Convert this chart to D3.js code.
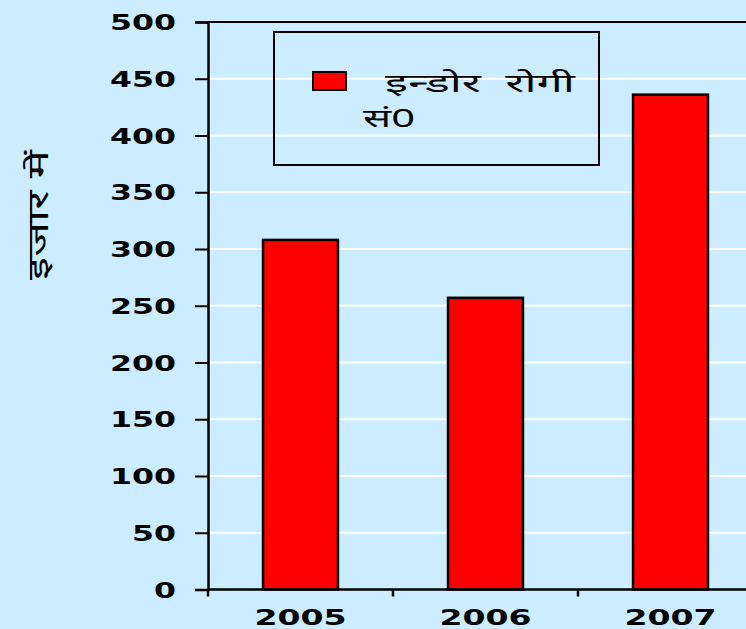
<!DOCTYPE html>
<html>
<head>
<meta charset="utf-8">
<script src="https://cdn.jsdelivr.net/npm/d3@7"></script>
<style>
  html, body { margin: 0; padding: 0; background: #CCECFF; }
  svg { display: block; }
</style>
</head>
<body>
<div id="chart"></div>
<script>
const categories = ["2005", "2006", "2007"];
const values = [308, 257, 436];
const yTicks = [0, 50, 100, 150, 200, 250, 300, 350, 400, 450, 500];
const seriesName1 = "इन्डोर  रोगी";
const seriesName2 = "सं0";
const yTitle = "इजार में";

const W = 746, H = 629;
const svg = d3.select("#chart").append("svg").attr("width", W).attr("height", H);
svg.append("rect").attr("width", W).attr("height", H).attr("fill", "#CCECFF");

const x = d3.scaleBand().domain(categories).range([208, 763]).paddingInner(0.595).paddingOuter(0.2975);
const y = d3.scaleLinear().domain([0, 500]).range([589.5, 22]);

// gridlines
svg.append("g").selectAll("line").data(yTicks.filter(d => d > 0 && d < 500)).join("line")
  .attr("x1", 208).attr("x2", W).attr("y1", d => y(d)).attr("y2", d => y(d))
  .attr("stroke", "#ffffff").attr("stroke-width", 2);

// top border
svg.append("line").attr("x1", 208).attr("x2", W).attr("y1", y(500)).attr("y2", y(500))
  .attr("stroke", "#000").attr("stroke-width", 2);

// bars
svg.append("g").selectAll("rect").data(values).join("rect")
  .attr("x", (d, i) => x(categories[i]))
  .attr("y", d => y(d))
  .attr("width", x.bandwidth())
  .attr("height", d => y(0) - y(d))
  .attr("fill", "#FF0000").attr("stroke", "#000").attr("stroke-width", 2.5);

// y axis
const yAxis = svg.append("g").attr("transform", "translate(208,0)")
  .call(d3.axisLeft(y).tickValues(yTicks).tickSize(13).tickPadding(19).tickFormat(d3.format("d")));
yAxis.select(".domain").attr("stroke", "#000").attr("stroke-width", 2.5);
yAxis.selectAll(".tick line").attr("stroke", "#000").attr("stroke-width", 2);
yAxis.selectAll(".tick text")
  .attr("font-family", "'DejaVu Sans', sans-serif").attr("font-weight", "bold")
  .attr("font-size", 21).attr("fill", "#000")
  .attr("dy", "0.36em")
  .attr("textLength", d => String(d).length * 22).attr("lengthAdjust", "spacingAndGlyphs");

// x axis
const xAxis = svg.append("g").attr("transform", `translate(0,${y(0)})`)
  .call(d3.axisBottom(x).tickSize(0).tickPadding(21));
xAxis.select(".domain").remove();
svg.append("line").attr("x1", 208).attr("x2", W).attr("y1", y(0)).attr("y2", y(0))
  .attr("stroke", "#000").attr("stroke-width", 2.5);
const boundaries = [x.range()[0]].concat(categories.map(c => x(c) + x.bandwidth() + x.step() * x.paddingInner() / 2));
svg.append("g").selectAll("line").data(boundaries).join("line")
  .attr("x1", d => d).attr("x2", d => d).attr("y1", y(0)).attr("y2", y(0) + 7)
  .attr("stroke", "#000").attr("stroke-width", 2.5);
xAxis.selectAll(".tick text")
  .attr("font-family", "'DejaVu Sans', sans-serif").attr("font-weight", "bold")
  .attr("font-size", 21).attr("fill", "#000")
  .attr("dy", "0.71em")
  .attr("textLength", 92).attr("lengthAdjust", "spacingAndGlyphs");

// y title
svg.append("text")
  .attr("transform", "translate(48,215) rotate(-90)")
  .attr("text-anchor", "middle")
  .attr("font-family", "'Noto Sans', sans-serif").attr("font-size", 28).attr("fill", "#000")
  .attr("textLength", 130).attr("lengthAdjust", "spacingAndGlyphs")
  .text(yTitle);

// legend
const lg = svg.append("g");
lg.append("rect").attr("x", 274).attr("y", 32).attr("width", 325).attr("height", 133)
  .attr("fill", "none").attr("stroke", "#000").attr("stroke-width", 2);
lg.append("rect").attr("x", 313).attr("y", 72).attr("width", 33).attr("height", 18)
  .attr("fill", "#FF0000").attr("stroke", "#000").attr("stroke-width", 2);
lg.append("text").attr("x", 385).attr("y", 92)
  .attr("font-family", "'Noto Sans', sans-serif").attr("font-size", 26).attr("fill", "#000")
  .attr("xml:space", "preserve").style("white-space", "pre")
  .attr("textLength", 190).attr("lengthAdjust", "spacingAndGlyphs")
  .text(seriesName1);
lg.append("text").attr("x", 363).attr("y", 127)
  .attr("font-family", "'Noto Sans', sans-serif").attr("font-size", 26).attr("fill", "#000")
  .attr("textLength", 52).attr("lengthAdjust", "spacingAndGlyphs")
  .text(seriesName2);
</script>
</body>
</html>
